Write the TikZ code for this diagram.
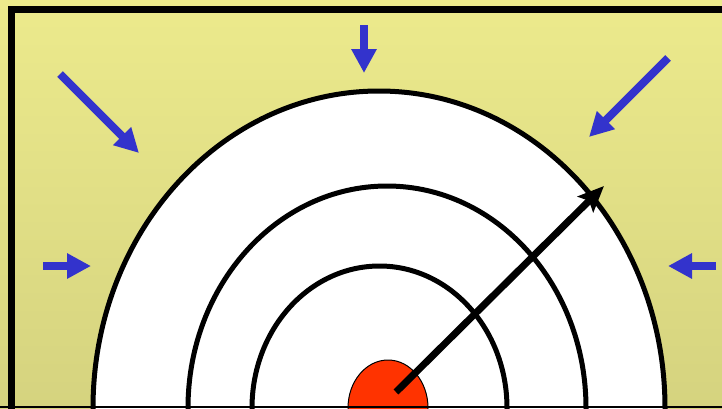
\documentclass[tikz,border=0pt]{standalone}
\usepackage{xcolor}
\usepackage{tikz}
\usetikzlibrary{arrows.meta}
\definecolor{bgtop}{HTML}{ECEA8C}
\definecolor{bgbottom}{HTML}{D5D37F}
\definecolor{pushblue}{HTML}{3333CC}
\definecolor{corered}{HTML}{FF3300}
\tikzset{
  pusharrow/.style={pushblue,line width=8pt,-{Triangle[length=24pt,width=24pt]}},
  ring/.style={fill=white,draw=black,line width=5pt}
}
\begin{document}
\begin{tikzpicture}[x=1pt,y=-1pt]
  \useasboundingbox (0,0) rectangle (722,408);
  \clip (0,0) rectangle (722,408);
  % background
  \shade[top color=bgtop,bottom color=bgbottom] (0,0) rectangle (722,408);
  % rings
  \draw[ring] (379,408) ellipse[x radius=286pt,y radius=317pt];
  \draw[ring] (387,408) ellipse[x radius=199pt,y radius=222pt];
  \draw[ring] (379.5,408) ellipse[x radius=127.5pt,y radius=142pt];
  \draw[fill=corered,draw=black,line width=1pt] (388,408) ellipse[x radius=40pt,y radius=48pt];
  % frame
  \draw[black,line width=7pt] (11.5,9.5) rectangle (740,430);
  \draw[black,line width=2pt] (0,407) -- (722,407);
  % pressure arrows
  \coordinate (topA) at (364,25);
  \coordinate (topB) at (364,73);
  \coordinate (leftA) at (43,266);
  \coordinate (leftB) at (91,266);
  \coordinate (rightA) at (716,266);
  \coordinate (rightB) at (668,266);
  \coordinate (tlA) at (60,74);
  \coordinate (tlB) at (139,153);
  \coordinate (trA) at (668,58);
  \coordinate (trB) at (589,137);
  \draw[pusharrow] (topA) -- (topB);
  \draw[pusharrow] (leftA) -- (leftB);
  \draw[pusharrow] (rightA) -- (rightB);
  \draw[pusharrow] (tlA) -- (tlB);
  \draw[pusharrow] (trA) -- (trB);
  % radius
  \coordinate (centre) at (396,392);
  \coordinate (rim) at (604,186);
  \draw[black,line width=7pt,-{Stealth[length=26pt,width=22pt,inset=5pt]}] (centre) -- (rim);
\end{tikzpicture}
\end{document}
